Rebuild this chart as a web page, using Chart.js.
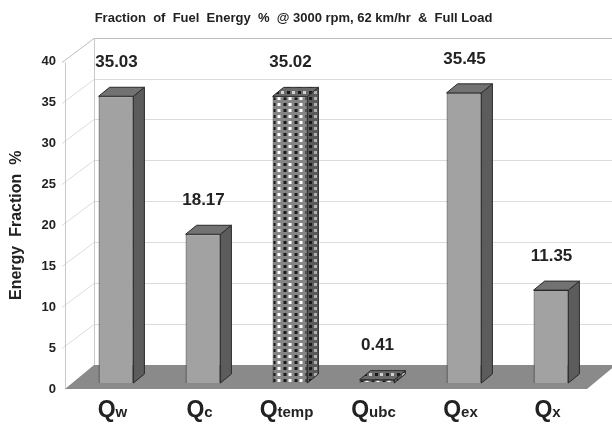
<!DOCTYPE html>
<html>
<head>
<meta charset="utf-8">
<script src="https://cdn.jsdelivr.net/npm/chart.js@4.4.0/dist/chart.umd.min.js"></script>
<style>
  html, body { margin: 0; padding: 0; background: #fff; }
  #wrap { width: 612px; height: 424px; }
</style>
</head>
<body>
<div id="wrap"><canvas id="chart" width="612" height="424"></canvas></div>
<script>
// data
const categories = ['Qw', 'Qc', 'Qtemp', 'Qubc', 'Qex', 'Qx'];
const energyFraction = [35.03, 18.17, 35.02, 0.41, 35.45, 11.35];
const patterned = [false, false, true, true, false, false];

const FONT = '"Liberation Sans", Arial, sans-serif';

// 3d look
const wall = { dx: 29, dy: -24 };
const barShift = { dx: 7.5, dy: -6 };
const barDepth = { dx: 11, dy: -9 };

function makePattern(bg, dark, light) {
  const c = document.createElement('canvas');
  c.width = 11; c.height = 6;
  const g = c.getContext('2d');
  g.fillStyle = bg;
  g.fillRect(0, 0, 11, 6);
  g.fillStyle = dark;
  g.fillRect(1, 1, 3, 3);
  g.fillStyle = light;
  g.fillRect(6, 1, 3, 3);
  return g.createPattern(c, 'repeat');
}

const frontPat = makePattern('#858585', '#1a1a1a', '#ffffff');
const sidePat = makePattern('#5a5a5a', '#1a1a1a', '#b0b0b0');
const topPat = makePattern('#6a6a6a', '#1a1a1a', '#d0d0d0');

function poly(ctx, pts, fill, stroke) {
  ctx.beginPath();
  ctx.moveTo(pts[0][0], pts[0][1]);
  for (let i = 1; i < pts.length; i++) ctx.lineTo(pts[i][0], pts[i][1]);
  ctx.closePath();
  if (fill) { ctx.fillStyle = fill; ctx.fill(); }
  if (stroke) { ctx.strokeStyle = stroke; ctx.lineWidth = 1; ctx.stroke(); }
}

const box3d = {
  id: 'box3d',
  beforeDatasetsDraw(chart) {
    const { ctx, chartArea: a, scales: { y } } = chart;
    ctx.save();
    ctx.lineWidth = 1;
    // side wall + back wall grid
    y.ticks.forEach(t => {
      if (t.value === 0) return;
      const py = Math.round(y.getPixelForValue(t.value)) + 0.5;
      ctx.strokeStyle = t.value === 40 ? '#bdbdbd' : '#dcdcdc';
      ctx.beginPath();
      ctx.moveTo(a.left - 3, py);
      ctx.lineTo(a.left + wall.dx, py + wall.dy);
      ctx.lineTo(chart.width, py + wall.dy);
      ctx.stroke();
    });
    ctx.strokeStyle = '#c8c8c8';
    const topY = Math.round(y.getPixelForValue(40)) + 0.5;
    ctx.beginPath();
    ctx.moveTo(a.left + wall.dx + 0.5, topY + wall.dy);
    ctx.lineTo(a.left + wall.dx + 0.5, a.bottom + wall.dy);
    ctx.moveTo(a.left + 0.5, topY);
    ctx.lineTo(a.left + 0.5, a.bottom);
    ctx.stroke();
    // floor
    poly(ctx, [
      [a.left, a.bottom], [a.right, a.bottom],
      [a.right + wall.dx, a.bottom + wall.dy], [a.left + wall.dx, a.bottom + wall.dy]
    ], '#8a8a8a', null);
    ctx.restore();
    ctx.save();
    ctx.translate(barShift.dx, barShift.dy);
  },
  afterDatasetsDraw(chart) {
    const { ctx } = chart;
    ctx.restore();
    const meta = chart.getDatasetMeta(0);
    ctx.save();
    meta.data.forEach((el, i) => {
      const p = el.getProps(['x', 'y', 'base', 'width'], true);
      const l = p.x - p.width / 2 + barShift.dx;
      const r = p.x + p.width / 2 + barShift.dx;
      const t = p.y + barShift.dy;
      const b = p.base + barShift.dy;
      const pat = patterned[i];
      poly(ctx, [[r, t], [r + barDepth.dx, t + barDepth.dy], [r + barDepth.dx, b + barDepth.dy], [r, b]],
        pat ? sidePat : '#5c5c5c', '#2a2a2a');
      poly(ctx, [[l, t], [l + barDepth.dx, t + barDepth.dy], [r + barDepth.dx, t + barDepth.dy], [r, t]],
        pat ? topPat : '#727272', '#2a2a2a');
      ctx.fillStyle = '#222';
      ctx.font = 'bold 17px ' + FONT;
      ctx.textAlign = 'center';
      ctx.textBaseline = 'middle';
      ctx.fillText(energyFraction[i].toFixed(2), p.x + 8, t - 34);
    });
    ctx.restore();
  },
  afterDraw(chart) {
    const { ctx, scales: { x } } = chart;
    ctx.save();
    ctx.fillStyle = '#222';
    ctx.textBaseline = 'alphabetic';
    ctx.textAlign = 'left';
    categories.forEach((c, i) => {
      const main = c.charAt(0), sub = c.slice(1);
      ctx.font = 'bold 23px ' + FONT;
      const w1 = ctx.measureText(main).width;
      ctx.font = 'bold 15px ' + FONT;
      const w2 = ctx.measureText(sub).width;
      const cx = x.getPixelForValue(i) + 4;
      const sx = cx - (w1 + w2) / 2;
      ctx.font = 'bold 23px ' + FONT;
      ctx.fillText(main, sx, 417);
      ctx.font = 'bold 15px ' + FONT;
      ctx.fillText(sub, sx + w1, 417);
    });
    ctx.restore();
  }
};

new Chart(document.getElementById('chart'), {
  type: 'bar',
  data: {
    labels: categories,
    datasets: [{
      data: energyFraction,
      backgroundColor: patterned.map(p => p ? frontPat : '#a2a2a2'),
      borderColor: '#2a2a2a',
      borderWidth: 1,
      barPercentage: 0.4,
      categoryPercentage: 1
    }]
  },
  options: {
    responsive: false,
    animation: false,
    layout: { padding: { left: 0, right: 25, top: 0, bottom: 35 } },
    plugins: {
      legend: { display: false },
      tooltip: { enabled: false },
      title: {
        display: true,
        text: 'Fraction  of  Fuel  Energy  %  @ 3000 rpm, 62 km/hr  &  Full Load',
        color: '#222',
        font: { family: FONT, size: 13, weight: 'bold' },
        padding: { top: 11, bottom: 35 }
      }
    },
    scales: {
      x: {
        ticks: { display: false },
        grid: { display: false },
        border: { display: false },
        afterFit(s) { s.height = 0; }
      },
      y: {
        min: 0,
        max: 40,
        ticks: {
          stepSize: 5,
          color: '#222',
          padding: 1,
          font: { family: FONT, size: 13, weight: 'bold' }
        },
        grid: { display: false },
        border: { display: false },
        title: {
          display: true,
          text: 'Energy  Fraction  %',
          color: '#222',
          font: { family: FONT, size: 16, weight: 'bold' },
          padding: { top: 7, bottom: 0 }
        },
        afterFit(s) { s.width = 65; }
      }
    }
  },
  plugins: [box3d]
});
</script>
</body>
</html>
